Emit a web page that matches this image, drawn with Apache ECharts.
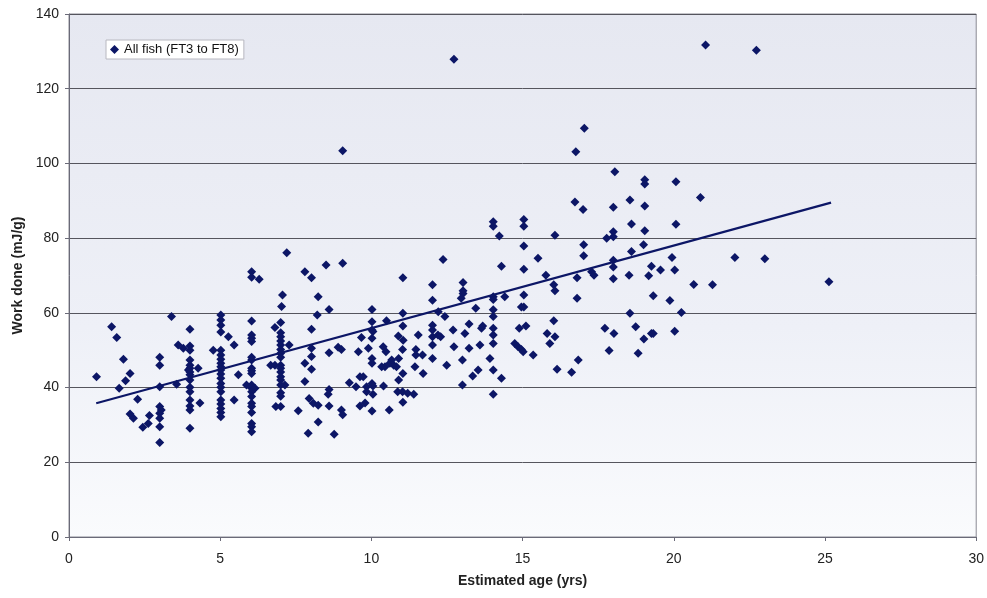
<!DOCTYPE html>
<html>
<head>
<meta charset="utf-8">
<script src="https://cdn.jsdelivr.net/npm/echarts@6/dist/echarts.min.js"></script>
<style>
  html, body { margin: 0; padding: 0; background: #fff; }
  #main { width: 987px; height: 598px; }
</style>
</head>
<body>
<div id="main"></div>
<script>
// age (yrs) and work done (mJ/g)
var ageYrs = [
  0.91,1.41,1.58,1.80,2.02,1.87,1.66,2.27,2.02,2.13,2.66,2.62,2.44,3.39,
  3.0,3.0,3.0,3.0,3.05,3.0,3.0,3.0,3.0,3.56,3.61,3.78,
  4.0,4.0,4.0,4.0,4.0,4.0,4.0,4.0,4.0,4.0,4.0,4.0,4.0,4.0,4.0,3.95,4.27,4.33,
  5.02,5.02,5.02,5.02,5.02,5.02,5.02,5.02,5.02,5.02,5.02,5.02,5.02,5.02,5.02,5.02,5.02,5.02,5.02,5.02,
  4.77,5.27,5.46,5.6,5.46,
  6.04,6.04,6.04,6.04,6.04,6.04,6.04,6.04,6.04,6.04,6.04,6.04,6.04,6.04,6.04,6.04,6.04,6.04,6.04,
  6.04,6.04,6.29,5.87,6.15,
  7.0,7.0,7.0,7.0,7.0,7.0,7.0,7.0,7.0,7.0,7.0,7.0,7.0,7.0,7.0,7.0,7.0,
  7.06,7.03,7.2,6.81,7.28,6.67,6.81,7.14,6.84,
  7.80,8.02,8.50,9.05,8.24,8.6,8.21,8.02,8.02,8.02,8.02,7.8,7.8,7.94,7.58,8.24,7.91,8.08,8.24,
  8.6,8.57,8.6,8.77,8.6,8.9,9.01,9.01,9.05,9.27,9.49,9.67,9.62,9.73,9.84,9.84,9.62,9.79,9.05,
  10.02,10.02,10.02,10.05,10.02,9.9,9.57,10.02,10.02,10.02,10.05,10.4,10.05,10.02,
  10.5,10.39,10.48,10.59,10.34,10.45,10.61,10.74,10.83,10.67,10.89,11.05,11.03,
  11.04,11.04,11.04,10.9,11.04,10.9,10.87,11.03,11.2,11.4,11.04,
  11.47,11.47,11.69,11.71,11.44,11.55,
  12.02,12.02,12.21,12.43,12.02,12.02,12.02,12.02,12.02,12.49,12.37,12.2,12.29,
  12.73,12.70,13.03,13.03,13.03,12.97,13.09,13.23,13.23,13.01,13.01,13.35,13.53,13.45,13.59,13.64,13.68,12.73,
  14.03,14.03,14.23,14.3,14.03,14.03,14.41,14.03,14.03,14.03,14.03,14.03,13.92,14.03,14.3,14.03,
  15.04,15.04,15.04,15.04,15.51,15.77,15.04,14.96,15.04,14.89,15.11,14.74,14.85,14.96,15.02,15.35,
  16.07,16.03,16.07,16.03,15.81,16.07,15.90,16.14,16.62,16.84,16.8,16.8,16.73,17.0,17.04,16.76,
  17.02,17.02,17.28,17.36,17.72,18.02,17.86,
  18.0,18.0,18.0,17.78,18.0,18.0,18.0,18.05,18.52,18.6,18.6,18.55,18.55,18.74,18.82,
  19.04,19.04,20.07,19.04,20.88,19.04,20.07,19.0,19.94,19.26,19.17,19.56,20.03,22.02,23.01,
  20.66,21.28,25.13,19.32,19.87,20.25,19.01,19.26,19.32,20.03,21.05,22.73
];
var workDone = [
  42.9,56.3,53.4,47.6,43.8,41.8,39.8,36.9,32.9,31.8,32.5,30.4,29.4,59.0,
  48.1,46.0,40.2,34.9,34.0,33.1,31.8,29.5,25.3,40.9,51.4,50.5,
  55.6,51.1,50.0,47.4,46.0,45.2,44.2,43.4,42.0,40.1,38.9,36.7,35.1,34.0,29.1,44.7,45.2,35.9,
  59.4,58.1,56.7,54.9,50.0,48.7,47.6,46.5,45.6,44.7,43.6,42.5,41.1,40.1,38.9,36.7,35.6,34.4,33.3,32.2,
  50.0,53.6,51.4,43.4,36.7,
  57.8,54.1,53.2,52.3,48.1,47.4,45.2,44.5,43.8,40.7,39.8,38.9,37.6,35.8,34.9,33.3,30.4,29.5,28.2,
  71.0,69.5,69.0,40.7,39.8,
  57.4,54.7,53.6,52.5,51.4,50.2,49.2,48.1,46.0,45.2,44.2,42.9,42.0,40.7,38.6,37.7,34.9,
  64.8,61.7,76.1,56.1,51.4,46.0,46.0,40.7,34.9,
  71.0,69.4,72.8,73.3,64.3,60.9,59.4,55.6,50.5,48.3,44.9,46.5,41.6,37.1,33.8,30.8,27.8,35.8,35.3,
  39.5,38.2,35.1,27.5,49.3,50.8,50.2,34.0,32.7,41.3,40.2,53.4,42.9,42.9,40.2,38.9,35.1,35.9,103.4,
  60.9,57.6,55.4,55.0,53.2,50.5,49.6,47.8,46.5,41.1,40.4,40.4,38.2,33.7,
  57.9,50.9,49.6,34.0,45.6,45.6,46.5,46.0,45.6,47.4,53.8,52.7,50.2,
  69.4,59.9,56.5,47.8,43.8,42.0,38.9,38.9,38.5,38.2,36.1,
  50.2,48.7,48.7,43.8,45.6,54.1,
  67.5,63.4,60.3,59.0,56.7,55.4,53.6,51.4,47.8,46.0,74.3,54.1,53.6,
  50.9,55.4,68.1,65.9,65.2,63.9,54.5,57.0,50.5,47.4,40.7,43.1,44.7,61.2,51.4,55.9,56.5,127.9,
  84.4,83.2,80.6,72.5,64.3,63.6,64.3,60.8,59.0,55.9,54.1,51.8,47.8,44.7,42.5,38.2,
  85.0,83.2,77.9,71.7,74.6,70.1,64.8,61.6,61.6,55.9,56.5,51.8,50.9,50.2,49.6,48.7,
  80.8,67.5,65.9,57.9,54.5,53.6,51.8,44.9,44.1,47.4,63.9,69.4,89.7,87.7,109.4,103.1,
  78.2,75.3,71.0,70.1,55.9,54.5,49.9,
  88.3,81.7,80.4,80.0,74.1,72.3,69.1,97.8,70.1,83.8,76.4,90.2,59.9,56.3,49.2,
  95.6,94.5,95.1,88.6,90.9,82.0,83.7,78.2,74.8,72.5,69.9,71.5,71.5,74.8,74.5,
  67.6,67.5,68.3,64.6,63.3,60.1,53.0,54.5,54.5,55.1,131.7,130.3
];

// linear trend line end points, as drawn
var trendAge = [0.9, 25.2];
var trendWork = [35.8, 89.5];

var xTicks = [0, 5, 10, 15, 20, 25, 30];
var yTicks = [0, 20, 40, 60, 80, 100, 120, 140];

var fishPts = ageYrs.map(function(a, i){ return [a, workDone[i]]; });
var trendPts = trendAge.map(function(a, i){ return [a, trendWork[i]]; });

var chart = echarts.init(document.getElementById('main'));
var navy = '#0c1666';
var txtFont = '"Liberation Sans", Arial, sans-serif';

chart.setOption({
  backgroundColor: '#ffffff',
  animation: false,
  textStyle: { fontFamily: txtFont },
  grid: {
    left: 69, right: 10, top: 14, bottom: 61,
    show: true,
    borderColor: '#8a8a94',
    borderWidth: 1,
    backgroundColor: new echarts.graphic.LinearGradient(0, 0, 0, 1, [
      { offset: 0, color: '#e6e8f1' },
      { offset: 0.6, color: '#eef0f7' },
      { offset: 1, color: '#fafbfd' }
    ])
  },
  legend: {
    data: ['All fish (FT3 to FT8)'],
    left: 106, top: 40,
    backgroundColor: '#ffffff',
    borderColor: '#b8b8c0',
    borderWidth: 1,
    padding: [3, 5, 3, 4],
    itemWidth: 9, itemHeight: 9, itemGap: 4,
    textStyle: { color: '#111', fontSize: 13, fontFamily: txtFont }
  },
  xAxis: {
    type: 'value',
    min: xTicks[0], max: xTicks[xTicks.length - 1], interval: 5,
    name: 'Estimated age (yrs)',
    nameLocation: 'middle', nameGap: 37,
    nameTextStyle: { fontWeight: 'bold', fontSize: 14, color: '#222' },
    axisLine: { show: true, lineStyle: { color: '#6a6a78' } },
    axisTick: { show: true, inside: false, length: 4, lineStyle: { color: '#6a6a78' } },
    axisLabel: { color: '#222', fontSize: 14, margin: 15 },
    splitLine: { show: false }
  },
  yAxis: {
    type: 'value',
    min: yTicks[0], max: yTicks[yTicks.length - 1], interval: 20,
    name: 'Work done (mJ/g)',
    nameLocation: 'middle', nameGap: 44, nameRotate: 90,
    nameTextStyle: { fontWeight: 'bold', fontSize: 14, color: '#222' },
    axisLine: { show: true, lineStyle: { color: '#6a6a78' } },
    axisTick: { show: true, inside: false, length: 4, lineStyle: { color: '#6a6a78' } },
    axisLabel: { color: '#222', fontSize: 14, margin: 10 },
    splitLine: { show: true, lineStyle: { color: '#55555d', width: 1 } }
  },
  series: [
    {
      name: 'All fish (FT3 to FT8)',
      type: 'scatter',
      symbol: 'diamond',
      symbolSize: 9,
      itemStyle: { color: navy, opacity: 1 },
      data: fishPts,
      z: 3
    },
    {
      name: 'trend',
      type: 'line',
      data: trendPts,
      symbol: 'none',
      lineStyle: { color: navy, width: 2.2 },
      z: 4
    }
  ]
});
</script>
</body>
</html>
